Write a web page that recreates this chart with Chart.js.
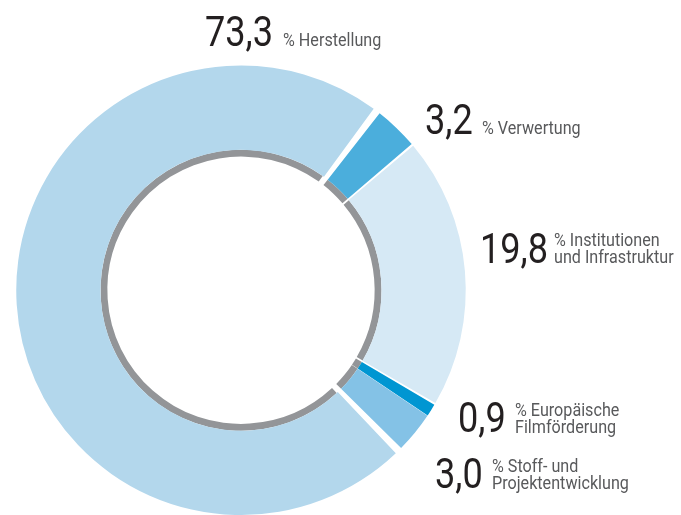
<!DOCTYPE html>
<html>
<head>
<meta charset="UTF-8">
<script src="https://cdn.jsdelivr.net/npm/chart.js@4.4.0/dist/chart.umd.min.js"></script>
<title>Förderung nach Bereichen</title>
<style>
  html, body { margin: 0; padding: 0; background: #fff; }
  #wrap { position: relative; width: 681px; height: 515px; overflow: hidden; }
  .num, .txt { position: absolute; font-family: Roboto, "Liberation Sans", sans-serif; white-space: nowrap;
               transform-origin: 0 0; }
  .num { font-size: 42px; line-height: 42px; color: #231f20; transform: scaleX(0.86); }
  .txt { font-size: 19px; line-height: 17px; color: #58595b; transform: scaleX(0.85); }
</style>
</head>
<body>
<div id="wrap">
  <canvas id="myChart" width="681" height="515"></canvas>
</div>

<script>
// data, clockwise starting after the top gap
const categories = ['Verwertung', 'Institutionen und Infrastruktur', 'Europäische Filmförderung', 'Stoff- und Projektentwicklung', 'Herstellung'];
const shares = [3.2, 19.8, 0.9, 3.0, 73.3];
const textLines = [
  ['% Verwertung'],
  ['% Institutionen', 'und Infrastruktur'],
  ['% Europäische', 'Filmförderung'],
  ['% Stoff- und', 'Projektentwicklung'],
  ['% Herstellung']
];
const colors = ['#4baedc', '#d6e9f5', '#0096d2', '#84c2e6', '#b3d7ec'];
const ringGray = '#939598';

// label layout: number left x, number baseline, text left x, first text baseline
const labelPos = [
  [425, 134, 482, 134],
  [480, 263, 554, 246],
  [458, 432, 515, 416],
  [435, 488, 492, 472],
  [205, 46, 283, 46]
];

new Chart('myChart', {
  type: 'doughnut',
  data: {
    labels: categories,
    datasets: [{
      data: shares,
      backgroundColor: colors,
      borderWidth: 0,
      weight: 86
    }, {
      data: shares,
      backgroundColor: ringGray,
      borderWidth: 0,
      weight: 7
    }]
  },
  options: {
    responsive: false,
    animation: false,
    rotation: 38,
    cutout: '59%',
    spacing: 5,
    layout: { padding: { left: 11.5, top: 65.5, right: 210.5, bottom: -9.5 } },
    plugins: { legend: { display: false }, tooltip: { enabled: false } }
  }
});

// labels as html text
const wrap = document.getElementById('wrap');
shares.forEach(function (v, i) {
  const p = labelPos[i];
  const n = document.createElement('div');
  n.className = 'num';
  n.textContent = v.toLocaleString('de-DE', { minimumFractionDigits: 1 });
  n.style.left = p[0] + 'px';
  n.style.top = (p[1] - 35.4) + 'px';
  wrap.appendChild(n);
  const t = document.createElement('div');
  t.className = 'txt';
  t.innerHTML = textLines[i].join('<br>');
  t.style.left = p[2] + 'px';
  t.style.top = (p[3] - 15) + 'px';
  wrap.appendChild(t);
});
</script>
</body>
</html>
